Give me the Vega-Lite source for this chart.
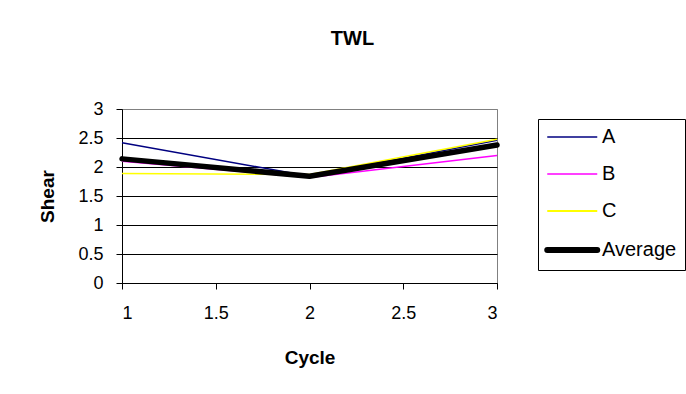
{
  "$schema": "https://vega.github.io/schema/vega-lite/v6.json",
  "width": 375,
  "height": 174,
  "autosize": {"type": "none"},
  "padding": {"left": 122, "top": 109, "right": 189, "bottom": 111},
  "background": "white",
  "title": {
    "text": "TWL",
    "font": "Liberation Sans",
    "fontSize": 20,
    "fontWeight": "bold",
    "color": "black",
    "anchor": "middle",
    "dx": 43,
    "offset": 35,
    "baseline": "alphabetic"
  },
  "data": {
    "values": [
      {"cycle": 1, "shear": 2.42, "series": "A"},
      {"cycle": 2, "shear": 1.84, "series": "A"},
      {"cycle": 3, "shear": 2.46, "series": "A"},
      {"cycle": 1, "shear": 2.10, "series": "B"},
      {"cycle": 2, "shear": 1.82, "series": "B"},
      {"cycle": 3, "shear": 2.20, "series": "B"},
      {"cycle": 1, "shear": 1.89, "series": "C"},
      {"cycle": 2, "shear": 1.87, "series": "C"},
      {"cycle": 3, "shear": 2.48, "series": "C"},
      {"cycle": 1, "shear": 2.14, "series": "Average"},
      {"cycle": 2, "shear": 1.84, "series": "Average"},
      {"cycle": 3, "shear": 2.38, "series": "Average"}
    ]
  },
  "encoding": {
    "x": {
      "field": "cycle",
      "type": "quantitative",
      "title": "Cycle",
      "scale": {"domain": [1, 3], "nice": false, "zero": false},
      "axis": {
        "values": [1, 1.5, 2, 2.5, 3],
        "format": "~g",
        "grid": false,
        "tickSize": 6,
        "labelPadding": 15,
        "titlePadding": 26
      }
    },
    "y": {
      "field": "shear",
      "type": "quantitative",
      "title": "Shear",
      "scale": {"domain": [0, 3], "nice": false},
      "axis": {
        "values": [0, 0.5, 1, 1.5, 2, 2.5, 3],
        "format": "~g",
        "grid": true,
        "gridColor": {"condition": {"test": "datum.value == 3", "value": "#808080"}, "value": "#000000"},
        "tickSize": 6,
        "labelPadding": 13,
        "titlePadding": 20
      }
    },
    "color": {
      "field": "series",
      "type": "nominal",
      "scale": {"domain": ["A", "B", "C", "Average"], "range": ["#000080", "#FF00FF", "#FFFF00", "#000000"]},
      "legend": {
        "title": null,
        "orient": "none",
        "legendX": 416,
        "legendY": 10,
        "strokeColor": "#000000",
        "padding": 8,
        "symbolType": "M-0.7,0H3.3",
        "symbolSize": 625,
        "symbolStrokeWidth": 1.5,
        "labelFont": "Liberation Sans",
        "labelFontSize": 20,
        "labelColor": "#000000",
        "labelOffset": 36,
        "rowPadding": 17,
        "encode": {
          "symbols": {
            "update": {
              "strokeWidth": {"signal": "datum.value === 'Average' ? 6 : (datum.value === 'C' ? 2 : 1.5)"},
              "strokeCap": {"signal": "datum.value === 'Average' ? 'round' : 'butt'"}
            }
          }
        }
      }
    }
  },
  "layer": [
    {
      "transform": [{"filter": "datum.series != 'Average'"}],
      "mark": {"type": "line", "strokeWidth": 1.5}
    },
    {
      "transform": [{"filter": "datum.series == 'Average'"}],
      "mark": {"type": "line", "strokeWidth": 5.5, "strokeCap": "round", "strokeJoin": "round"}
    }
  ],
  "config": {
    "view": {"stroke": "#808080", "strokeWidth": 1},
    "axis": {
      "domainColor": "#000000",
      "tickColor": "#000000",
      "labelFont": "Liberation Sans",
      "labelFontSize": 18,
      "labelColor": "#000000",
      "titleFont": "Liberation Sans",
      "titleFontSize": 19,
      "titleFontWeight": "bold",
      "titleColor": "#000000",
      "gridOpacity": 1,
      "gridWidth": 1
    }
  }
}
